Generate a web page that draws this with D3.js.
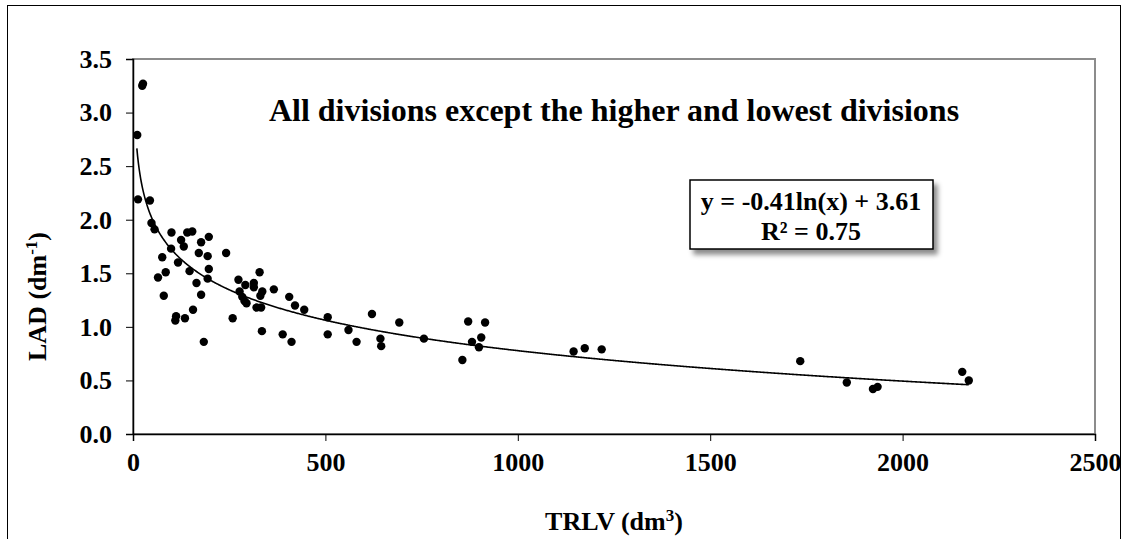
<!DOCTYPE html>
<html>
<head>
<meta charset="utf-8">
<script src="https://cdn.jsdelivr.net/npm/d3@7"></script>
<style>
  html, body { margin: 0; padding: 0; background: #fff; }
  text { font-family: "Liberation Serif", "Times New Roman", serif; font-weight: bold; fill: #000; }
</style>
</head>
<body>
<div id="chart"></div>
<script>
// TRLV (dm3) and LAD (dm-1)
const trlv = [11, 24, 26, 13, 44, 48, 56, 100, 141, 154, 197, 125, 177, 132, 99, 171, 242, 194, 76, 117,
  197, 147, 85, 329, 65, 194, 274, 165, 314, 314, 292, 366, 277, 336, 331, 80, 177, 284, 290, 295,
  406, 421, 321, 333, 445, 156, 506, 112, 110, 135, 259, 560, 335, 389, 506, 412, 184, 621, 581, 643,
  645, 692, 756, 871, 915, 881, 905, 899, 856, 1145, 1174, 1218, 1734, 1855, 1923, 1935, 2155, 2172];
const lad = [2.79, 3.25, 3.27, 2.19, 2.18, 1.97, 1.91, 1.88, 1.88, 1.89, 1.84, 1.81, 1.79, 1.75, 1.73, 1.69, 1.69, 1.66, 1.65, 1.60,
  1.54, 1.52, 1.51, 1.51, 1.46, 1.45, 1.44, 1.41, 1.41, 1.37, 1.39, 1.35, 1.33, 1.33, 1.29, 1.29, 1.30, 1.28, 1.24, 1.22,
  1.28, 1.20, 1.18, 1.18, 1.16, 1.16, 1.09, 1.10, 1.06, 1.08, 1.08, 0.97, 0.96, 0.93, 0.93, 0.86, 0.86, 1.12, 0.86, 0.89,
  0.82, 1.04, 0.89, 1.05, 1.04, 0.86, 0.90, 0.81, 0.69, 0.77, 0.80, 0.79, 0.68, 0.48, 0.42, 0.44, 0.58, 0.50];

const xTicks = [0, 500, 1000, 1500, 2000, 2500];
const yTicks = [0, 0.5, 1.0, 1.5, 2.0, 2.5, 3.0, 3.5];

// log trendline from the chart: y = -0.41 ln(x) + 3.61
const fitA = -0.41, fitB = 3.61;
const fitRange = [10, 2172];

const title = "All divisions except the higher and lowest divisions";

const width = 1127, height = 539;
const margin = { left: 133, right: 32, top: 59, bottom: 105 };

const svg = d3.select("#chart").append("svg")
  .attr("width", width)
  .attr("height", height);

// outer chart frame
svg.append("rect")
  .attr("x", 7.5).attr("y", 5.5)
  .attr("width", 1113).attr("height", 560)
  .attr("fill", "none").attr("stroke", "#000").attr("stroke-width", 1);

const x = d3.scaleLinear().domain([0, 2500]).range([margin.left, width - margin.right]);
const y = d3.scaleLinear().domain([0, 3.5]).range([height - margin.bottom, margin.top]);

// plot area border
svg.append("rect")
  .attr("x", x(0)).attr("y", y(3.5))
  .attr("width", x(2500) - x(0)).attr("height", y(0) - y(3.5))
  .attr("fill", "none").attr("stroke", "#8c8c8c").attr("stroke-width", 2);

const fmt = d3.format(".1f");

svg.append("g")
  .attr("transform", `translate(0,${y(0)})`)
  .call(d3.axisBottom(x).tickValues(xTicks).tickFormat(d3.format("d")).tickSize(7).tickPadding(12))
  .call(g => g.select(".domain").attr("stroke-width", 1.5))
  .call(g => g.selectAll("text").style("font-size", "26px"));

svg.append("g")
  .attr("transform", `translate(${x(0)},0)`)
  .call(d3.axisLeft(y).tickValues(yTicks).tickFormat(fmt).tickSize(7).tickPadding(14))
  .call(g => g.select(".domain").attr("stroke-width", 1.5))
  .call(g => g.selectAll("text").style("font-size", "26px"));

// trendline
const curve = d3.range(fitRange[0], fitRange[1] + 1, 2).map(v => [v, fitA * Math.log(v) + fitB]);
svg.append("path")
  .datum(curve)
  .attr("fill", "none").attr("stroke", "#000").attr("stroke-width", 1.6)
  .attr("d", d3.line().x(d => x(d[0])).y(d => y(d[1])));

// points
svg.append("g")
  .selectAll("circle")
  .data(trlv.map((v, i) => [v, lad[i]]))
  .enter().append("circle")
  .attr("cx", d => x(d[0]))
  .attr("cy", d => y(d[1]))
  .attr("r", 4.2)
  .attr("fill", "#000");

// title
svg.append("text")
  .attr("x", (x(0) + x(2500)) / 2).attr("y", 121)
  .attr("text-anchor", "middle")
  .style("font-size", "32px")
  .text(title);

// axis titles
const xt = svg.append("text")
  .attr("x", (x(0) + x(2500)) / 2).attr("y", 530)
  .attr("text-anchor", "middle")
  .style("font-size", "26px");
xt.append("tspan").text("TRLV (dm");
xt.append("tspan").attr("dy", -9).style("font-size", "17px").text("3");
xt.append("tspan").attr("dy", 9).text(")");

const yt = svg.append("text")
  .attr("transform", `translate(46,${(y(0) + y(3.5)) / 2 + 50}) rotate(-90)`)
  .attr("text-anchor", "middle")
  .style("font-size", "26px");
yt.append("tspan").text("LAD (dm");
yt.append("tspan").attr("dy", -9).style("font-size", "17px").text("-1");
yt.append("tspan").attr("dy", 9).text(")");

// equation box with shadow
const defs = svg.append("defs");
const f = defs.append("filter").attr("id", "shadow").attr("x", "-10%").attr("y", "-10%").attr("width", "130%").attr("height", "140%");
f.append("feDropShadow").attr("dx", 4).attr("dy", 5).attr("stdDeviation", 2.5).attr("flood-color", "#000").attr("flood-opacity", 0.45);

svg.append("rect")
  .attr("x", 690).attr("y", 180)
  .attr("width", 243).attr("height", 69)
  .attr("fill", "#fff").attr("stroke", "#000").attr("stroke-width", 1.5)
  .attr("filter", "url(#shadow)");

svg.append("text")
  .attr("x", 811).attr("y", 210)
  .attr("text-anchor", "middle")
  .style("font-size", "26px")
  .text(`y = ${fitA}ln(x) + ${fitB}`);

const r2 = svg.append("text")
  .attr("x", 811).attr("y", 240)
  .attr("text-anchor", "middle")
  .style("font-size", "26px");
r2.append("tspan").text("R² = 0.75");
</script>
</body>
</html>
